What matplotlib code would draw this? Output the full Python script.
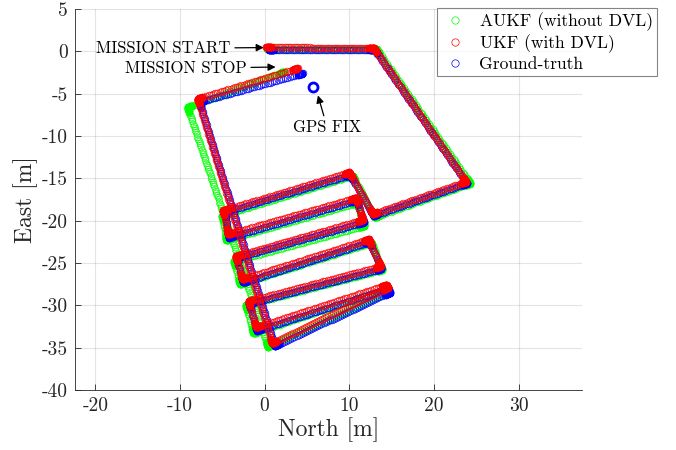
import numpy as np
import matplotlib
matplotlib.use("Agg")
import matplotlib.pyplot as plt

plt.rcParams['font.family'] = ['cmr10', 'DejaVu Serif']
plt.rcParams['mathtext.fontset'] = 'cm'
plt.rcParams['axes.unicode_minus'] = False

# Waypoints of each trajectory (North, East)
GT_N = [0.5, 13.0, 23.9, 12.9, 10.1, -4.7, -4.2, 10.9, 11.7, -3.3, -2.5, 12.4, 13.8, -1.8, -0.9, 14.6, 14.8, 1.2, -7.7, 4.5]
GT_E = [0.2, 0.2, -15.6, -19.4, -14.6, -19.0, -22.0, -17.6, -20.2, -24.4, -27.3, -22.5, -25.7, -29.8, -33.0, -28.0, -28.5, -34.8, -6.0, -2.6]

UKF_N = [0.2, 12.9, 23.8, 12.8, 10.0, -4.9, -4.3, 10.8, 11.6, -3.4, -2.6, 12.3, 13.7, -1.9, -1.0, 14.4, 14.6, 0.9, -7.9, 3.9]
UKF_E = [0.5, 0.4, -15.4, -19.2, -14.3, -18.8, -21.6, -17.3, -19.9, -24.2, -26.9, -22.2, -25.4, -29.5, -32.6, -27.6, -27.9, -34.5, -5.6, -2.0]

AUKF_N = [0.3, 13.2, 24.3, 13.0, 10.4, -5.0, -4.5, 10.9, 11.8, -3.6, -2.9, 12.6, 13.9, -2.2, -1.3, 14.5, 14.7, 0.4, -9.1, 2.3]
AUKF_E = [0.3, 0.3, -15.6, -19.6, -14.7, -19.4, -22.3, -17.9, -20.6, -24.8, -27.5, -22.6, -25.8, -30.0, -33.3, -28.0, -28.4, -34.9, -6.6, -2.4]

GPS_N = [5.7]
GPS_E = [-4.2]

labels = ['AUKF (without DVL)', 'UKF (with DVL)', 'Ground-truth']
x_ticks = [-20, -10, 0, 10, 20, 30]
y_ticks = [5, 0, -5, -10, -15, -20, -25, -30, -35, -40]


def trace(n, e, step=0.27, dwell=0.6, dstep=0.03):
    """Marker positions along the recorded path (rendering of the track)."""
    xs, ys = [], []
    for i in range(len(n) - 1):
        x0, y0, x1, y1 = n[i], e[i], n[i + 1], e[i + 1]
        L = np.hypot(x1 - x0, y1 - y0)
        s = list(np.arange(0, L, step))
        d = min(dwell, L / 2)
        s += list(np.arange(0, d, dstep)) + list(L - np.arange(0, d, dstep))
        s = np.sort(np.array(s))
        t = s / L
        xs.append(x0 + t * (x1 - x0))
        ys.append(y0 + t * (y1 - y0))
    return np.concatenate(xs), np.concatenate(ys)


fig = plt.figure(figsize=(6.76, 4.5), dpi=100)
ax = fig.add_axes([75 / 676, 1 - 390 / 450, 507 / 676, 381 / 450])

ms = 4.8
mew = 0.5
an, ae = trace(AUKF_N, AUKF_E)
gn, ge = trace(GT_N, GT_E)
un, ue = trace(UKF_N, UKF_E)
h1, = ax.plot(an, ae, 'o', ms=ms, mfc='none', mec=(0, 1, 0), mew=mew, ls='none')
h3, = ax.plot(gn, ge, 'o', ms=ms, mfc='none', mec=(0, 0, 1), mew=mew, ls='none')
h2, = ax.plot(un, ue, 'o', ms=ms, mfc='none', mec=(1, 0, 0), mew=mew, ls='none')
ax.plot(GPS_N, GPS_E, 'o', ms=6.5, mfc='none', mec=(0, 0, 1), mew=2.0, ls='none')

ax.set_xlim(-22.4, 37.5)
ax.set_ylim(-40, 5)
ax.set_aspect('equal', adjustable='box')
ax.set_xticks(x_ticks)
ax.set_yticks(y_ticks)
ax.grid(True, color=(0.15, 0.15, 0.15), alpha=0.12, lw=0.8)
ax.set_axisbelow(True)
for s in ['top', 'right']:
    ax.spines[s].set_visible(False)
for s in ['left', 'bottom']:
    ax.spines[s].set_color((0.15, 0.15, 0.15))
    ax.spines[s].set_linewidth(0.6)
ax.tick_params(direction='in', length=4, width=0.6, color=(0.15, 0.15, 0.15),
               labelsize=14, labelcolor=(0.15, 0.15, 0.15), pad=5)
ax.set_xlabel('North [m]', fontsize=17, color=(0.15, 0.15, 0.15), labelpad=2)
ax.set_ylabel('East [m]', fontsize=17, color=(0.15, 0.15, 0.15), labelpad=3)

arrow = dict(arrowstyle='-|>', color='k', lw=0.9, mutation_scale=11, shrinkA=1, shrinkB=0)
ax.annotate('MISSION START', xy=(-0.1, 0.45), xytext=(-4.0, 0.35), ha='right', va='center',
            fontsize=12, arrowprops=arrow)
ax.annotate('MISSION STOP', xy=(1.3, -1.85), xytext=(-2.1, -2.0), ha='right', va='center',
            fontsize=12, arrowprops=arrow)
ax.annotate('GPS FIX', xy=(6.3, -5.2), xytext=(7.4, -9.0), ha='center', va='center',
            fontsize=12, arrowprops=arrow)

leg = fig.legend([h1, h2, h3], labels, loc='upper right',
                 bbox_to_anchor=(657 / 676, 1 - 8 / 450), bbox_transform=fig.transFigure,
                 fancybox=False, fontsize=12.6, borderaxespad=0, handletextpad=0.6,
                 handlelength=1.6, labelspacing=0.2, borderpad=0.25, markerscale=1.1)
leg.get_frame().set_edgecolor((0.4, 0.4, 0.4))
leg.get_frame().set_linewidth(0.8)

fig.savefig('out.png', dpi=100)
